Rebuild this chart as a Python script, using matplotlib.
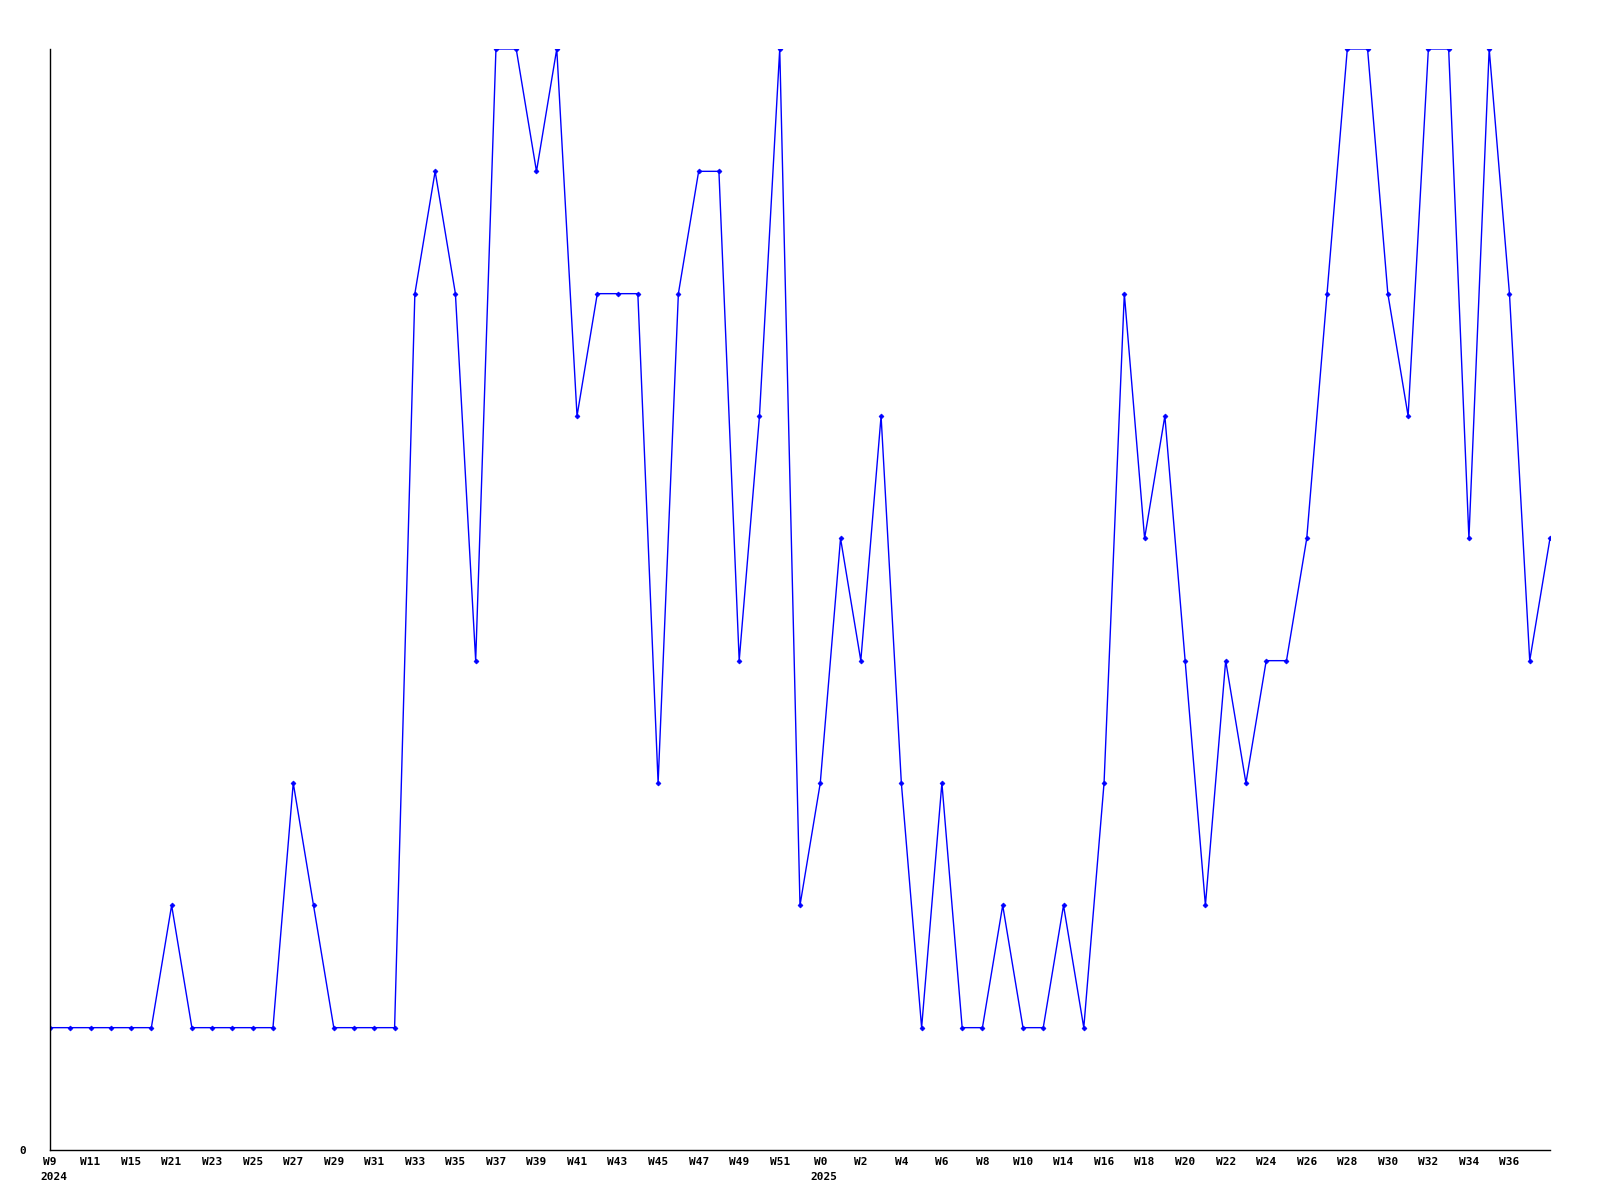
import matplotlib
matplotlib.use('Agg')
import matplotlib.pyplot as plt

# weeks shown on the x axis (only weeks that have data)
weeks = ['W9', 'W10', 'W11', 'W13', 'W15', 'W18', 'W21', 'W22', 'W23', 'W24',
         'W25', 'W26', 'W27', 'W28', 'W29', 'W30', 'W31', 'W32', 'W33', 'W34',
         'W35', 'W36', 'W37', 'W38', 'W39', 'W40', 'W41', 'W42', 'W43', 'W44',
         'W45', 'W46', 'W47', 'W48', 'W49', 'W50', 'W51', 'W52',
         'W0', 'W1', 'W2', 'W3', 'W4', 'W5', 'W6', 'W7', 'W8', 'W9', 'W10', 'W13',
         'W14', 'W15', 'W16', 'W17', 'W18', 'W19', 'W20', 'W21', 'W22', 'W23',
         'W24', 'W25', 'W26', 'W27', 'W28', 'W29', 'W30', 'W31', 'W32', 'W33',
         'W34', 'W35', 'W36', 'W37', 'W38']
counts = [1, 1, 1, 1, 1, 1, 2, 1, 1, 1, 1, 1, 3, 2, 1, 1, 1, 1, 7, 8,
          7, 4, 9, 9, 8, 9, 6, 7, 7, 7, 3, 7, 8, 8, 4, 6, 9, 2,
          3, 5, 4, 6, 3, 1, 3, 1, 1, 2, 1, 1, 2, 1, 3, 7, 5, 6, 4, 2,
          4, 3, 4, 4, 5, 7, 9, 9, 7, 6, 9, 9, 5, 9, 7, 4, 5]
# where a new year starts: (index, year)
years = [(0, '2024'), (38, '2025')]

font = {'family': 'DejaVu Sans Mono', 'weight': 'bold', 'size': 8}

fig = plt.figure(figsize=(16, 12), dpi=100)
ax = fig.add_axes([0.03125, 0.04167, 0.9375, 0.9175])

x = list(range(len(counts)))
ax.plot(x, counts, color='#0000ff', linewidth=1, marker='D', markersize=2.5,
        markeredgewidth=0.5)

ax.set_xlim(0, len(counts) - 1)
ax.set_ylim(0, 9)

ax.spines['top'].set_visible(False)
ax.spines['right'].set_visible(False)
ax.spines['left'].set_linewidth(1)
ax.spines['bottom'].set_linewidth(1)

# every other week gets a label, the last point has none
ticks = x[:-1:2]
ax.set_xticks(ticks)
ax.set_xticklabels([weeks[i] for i in ticks], fontdict=font)
ax.tick_params(axis='x', length=0, pad=5)
ax.set_yticks([0])
ax.set_yticklabels(['0'], fontdict=font)
ax.tick_params(axis='y', length=0, pad=17)

for i, yr in years:
    ax.annotate(yr, xy=(i, 0), xycoords=('data', 'axes fraction'),
                xytext=(-7, -16), textcoords='offset points',
                ha='left', va='top', **font)

fig.savefig('out.png')
